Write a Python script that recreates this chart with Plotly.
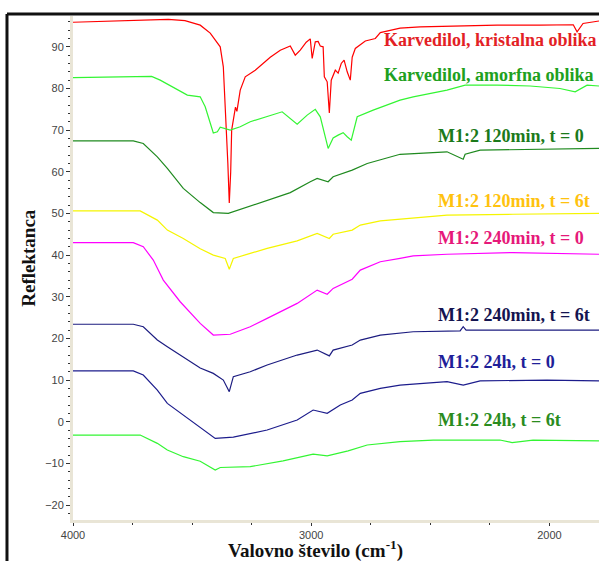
import plotly.graph_objects as go

# ---- data (wavenumber cm-1, reflectance) ----
wn_red = [4000, 3880, 3720, 3600, 3530, 3466, 3424, 3382, 3369, 3357, 3350, 3344, 3338, 3334, 3327,
          3318, 3312, 3298, 3277, 3235, 3172, 3130, 3088, 3067, 3046, 3021, 3004, 2996, 2983, 2971,
          2962, 2950, 2945, 2933, 2924, 2916, 2899, 2887, 2874, 2862, 2849, 2836, 2828, 2815, 2773,
          2731, 2710, 2627, 2543, 2430, 2220, 2040, 1900, 1884, 1859, 1792]
val_red = [95.9, 96.1, 96.5, 96.6, 96.3, 95.2, 93.3, 90.0, 85.2, 72.4, 62.0, 52.5, 60.0, 70.0, 72.4,
           75.5, 74.5, 79.6, 82.8, 84.4, 87.5, 89.2, 90.2, 88.0, 89.2, 91.1, 91.9, 87.2, 91.2, 91.3,
           90.2, 90.0, 82.8, 81.6, 74.1, 82.0, 84.4, 83.7, 86.0, 86.8, 84.0, 82.0, 87.5, 89.6, 91.4,
           92.0, 93.4, 94.5, 94.8, 95.0, 95.2, 95.2, 95.3, 93.6, 95.6, 96.2]

wn_amorf = [4000, 3800, 3670, 3634, 3579, 3520, 3466, 3445, 3424, 3411, 3394, 3382, 3340, 3298, 3256,
            3185, 3122, 3059, 3017, 2983, 2962, 2929, 2908, 2887, 2866, 2849, 2832, 2807, 2740, 2627,
            2572, 2430, 2354, 2220, 2081, 1956, 1892, 1842, 1792]
val_amorf = [82.6, 82.7, 82.9, 82.0, 80.2, 78.4, 78.0, 75.6, 71.7, 69.3, 69.6, 70.7, 70.0, 70.8, 72.0,
             73.2, 74.4, 71.4, 73.6, 75.0, 73.2, 65.6, 68.1, 68.8, 69.4, 68.4, 67.6, 73.2, 74.8, 77.2,
             78.0, 79.6, 80.8, 80.8, 80.6, 80.0, 79.2, 80.8, 80.6]

wn_120_0 = [4000, 3747, 3705, 3646, 3604, 3537, 3466, 3411, 3348, 3285, 3185, 3088, 3004, 2975, 2929,
            2908, 2828, 2765, 2627, 2572, 2430, 2362, 2354, 2291, 2081, 1792]
val_120_0 = [67.4, 67.4, 66.8, 63.6, 60.8, 56.0, 52.6, 50.2, 50.0, 51.2, 53.0, 55.0, 57.6, 58.4, 57.6,
             58.8, 60.4, 62.0, 64.2, 64.4, 64.8, 63.0, 64.2, 65.2, 65.4, 65.6]

wn_120_6 = [4000, 3718, 3646, 3604, 3537, 3466, 3411, 3361, 3344, 3327, 3256, 3185, 3059, 2975, 2924,
            2908, 2828, 2794, 2710, 2627, 2572, 2430, 2153, 1792]
val_120_6 = [50.6, 50.6, 48.4, 46.0, 44.0, 41.5, 40.0, 39.2, 36.6, 39.2, 40.4, 41.6, 43.4, 45.2, 44.0,
             45.0, 46.0, 47.2, 48.2, 48.6, 49.0, 49.6, 49.8, 50.0]

wn_240_0 = [4000, 3747, 3705, 3663, 3621, 3550, 3466, 3411, 3340, 3256, 3185, 3059, 2975, 2933, 2908,
            2849, 2828, 2794, 2710, 2627, 2572, 2430, 2153, 1792]
val_240_0 = [43.0, 43.0, 42.0, 38.8, 34.0, 28.8, 23.6, 20.8, 21.0, 22.8, 24.8, 28.4, 31.6, 30.6, 32.0,
             33.6, 34.2, 36.4, 38.4, 39.2, 39.8, 40.2, 40.6, 40.2]

wn_240_6 = [4000, 3747, 3705, 3646, 3604, 3537, 3466, 3411, 3369, 3344, 3327, 3256, 3185, 3059, 2975,
            2924, 2908, 2828, 2794, 2710, 2627, 2572, 2375, 2362, 2350, 2291, 1792]
val_240_6 = [23.4, 23.4, 22.8, 19.6, 18.0, 15.6, 12.9, 11.6, 10.0, 7.2, 10.8, 12.0, 13.6, 16.0, 17.2,
             15.8, 17.2, 18.4, 19.6, 20.8, 21.2, 21.6, 21.8, 22.8, 22.0, 22.0, 22.0]

wn_24_0 = [4000, 3747, 3705, 3646, 3604, 3537, 3466, 3403, 3327, 3185, 3059, 2992, 2933, 2878, 2828,
           2794, 2710, 2627, 2572, 2430, 2362, 2291, 2011, 1792]
val_24_0 = [12.2, 12.2, 11.2, 7.6, 4.4, 1.6, -1.2, -4.0, -3.7, -2.0, 0.4, 2.8, 2.0, 4.0, 5.2,
            6.8, 8.0, 8.8, 9.0, 9.6, 8.8, 9.8, 10.0, 9.8]

wn_24_6 = [4000, 3718, 3646, 3604, 3537, 3466, 3403, 3382, 3256, 3118, 2992, 2933, 2845, 2765, 2627,
           2488, 2208, 2157, 2069, 1792]
val_24_6 = [-3.2, -3.2, -5.2, -6.8, -8.4, -9.5, -11.6, -11.0, -10.8, -9.4, -7.8, -8.2, -7.0, -5.6, -4.8,
            -4.4, -4.4, -5.0, -4.4, -4.6]

labels = ["Karvedilol, kristalna oblika", "Karvedilol, amorfna oblika", "M1:2 120min, t = 0",
          "M1:2 120min, t = 6t", "M1:2 240min, t = 0", "M1:2 240min, t = 6t",
          "M1:2 24h, t = 0", "M1:2 24h, t = 6t"]
label_x = [2703, 2703, 2476, 2476, 2476, 2476, 2476, 2476]
label_y = [91.6, 83.2, 68.6, 52.9, 44.0, 25.6, 14.4, 0.4]

series = [(wn_red, val_red), (wn_amorf, val_amorf), (wn_120_0, val_120_0), (wn_120_6, val_120_6),
          (wn_240_0, val_240_0), (wn_240_6, val_240_6), (wn_24_0, val_24_0), (wn_24_6, val_24_6)]
line_colors = ["#ff0000", "#33f533", "#1f8a1f", "#f5f500", "#ff00ff", "#1c1c80", "#1c1c8c", "#33f533"]
label_colors = ["#e31f26", "#20a020", "#1b7a1b", "#ffc20e", "#e6197a", "#141450", "#1f1f99", "#2a8c1e"]

fig = go.Figure()
for (xs, ys), c, name in zip(series, line_colors, labels):
    fig.add_trace(go.Scatter(x=xs, y=ys, mode="lines", name=name,
                             line=dict(color=c, width=1.2), showlegend=False))

for t, x, y, c in zip(labels, label_x, label_y, label_colors):
    fig.add_annotation(x=x, y=y, xref="x", yref="y", text=t, showarrow=False,
                       xanchor="left", yanchor="middle",
                       font=dict(family="Liberation Serif", size=18, color=c, weight="bold"))

# axis titles
fig.add_annotation(x=-0.084, y=0.52, xref="paper", yref="paper", text="Reflektanca",
                   showarrow=False, textangle=-90, xanchor="center", yanchor="middle",
                   font=dict(family="Liberation Serif", size=19, color="#111111", weight="bold"))
fig.add_annotation(x=0.461, y=-0.058, xref="paper", yref="paper",
                   text="Valovno število (cm<sup>-1</sup>)",
                   showarrow=False, xanchor="center", yanchor="middle",
                   font=dict(family="Liberation Serif", size=19, color="#111111", weight="bold"))

# outer frame (left and top borders)
fig.add_shape(type="line", xref="paper", yref="paper", x0=-0.1255, x1=-0.1255, y0=1.004, y1=-0.09,
              line=dict(color="#111111", width=3))
fig.add_shape(type="line", xref="paper", yref="paper", x0=-0.1255, x1=1.02, y0=1.004, y1=1.004,
              line=dict(color="#111111", width=3))

tickfont = dict(family="Liberation Sans", size=11, color="#444444")
fig.update_xaxes(range=[4000, 1792], showgrid=False, zeroline=False,
                 showline=True, linecolor="#e9e5d6", linewidth=3,
                 tickmode="linear", tick0=0, dtick=1000, ticks="outside", ticklen=3,
                 tickcolor="#333333", tickfont=tickfont,
                 minor=dict(dtick=250, tick0=0, ticks="outside", ticklen=2, tickcolor="#333333"))
fig.update_yaxes(range=[-23.6, 97.4], showgrid=False, zeroline=False,
                 showline=True, linecolor="#e9e5d6", linewidth=3,
                 tickmode="linear", tick0=0, dtick=10, ticks="outside", ticklen=4,
                 tickcolor="#333333", tickfont=tickfont,
                 minor=dict(dtick=2, tick0=0, ticks="outside", ticklen=2, tickcolor="#333333"))

fig.update_layout(width=599, height=561, margin=dict(l=73, r=0, t=16, b=41),
                  paper_bgcolor="white", plot_bgcolor="white")

fig.write_html("out.html")
